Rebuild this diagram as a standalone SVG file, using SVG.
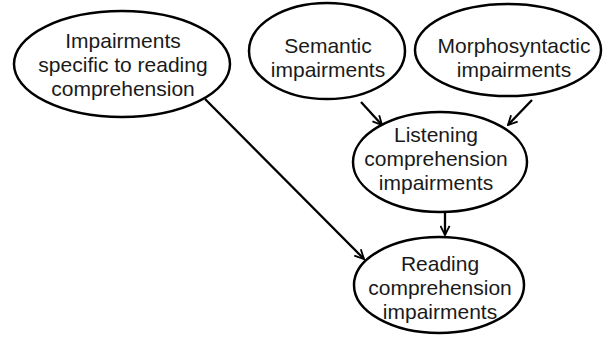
<svg xmlns="http://www.w3.org/2000/svg" width="604" height="339" viewBox="0 0 604 339">
  <defs>
    <marker id="arrow" viewBox="0 0 12 12" refX="11" refY="6" markerWidth="11" markerHeight="11" markerUnits="userSpaceOnUse" orient="auto">
      <path d="M1,1 L11,6 L1,11" fill="none" stroke="#000" stroke-width="2"/>
    </marker>
  </defs>
  <style>
    .node ellipse { fill: #fff; stroke: #000; stroke-width: 2.5; }
    .node text { font-family: "Liberation Sans", Arial, sans-serif; font-size: 21px; fill: #1a1a1a; text-anchor: middle; }
    .edge { stroke: #000; stroke-width: 2.3; fill: none; marker-end: url(#arrow); }
  </style>
  <rect width="604" height="339" fill="#fff"/>

  <g id="connectors">
    <line class="edge" x1="205" y1="99" x2="364" y2="259"/>
    <line class="edge" x1="361" y1="102" x2="382" y2="125"/>
    <line class="edge" x1="532" y1="100" x2="508" y2="125"/>
    <line class="edge" x1="445" y1="212" x2="445" y2="235"/>
  </g>

  <g id="reading-specific" class="node">
    <ellipse cx="122" cy="64" rx="108" ry="53"/>
    <text x="123" y="48">Impairments</text>
    <text x="123" y="72">specific to reading</text>
    <text x="123" y="96">comprehension</text>
  </g>

  <g id="semantic" class="node">
    <ellipse cx="327" cy="51" rx="78" ry="48"/>
    <text x="328" y="53">Semantic</text>
    <text x="328" y="77">impairments</text>
  </g>

  <g id="morphosyntactic" class="node">
    <ellipse cx="508" cy="50" rx="93" ry="46"/>
    <text x="514" y="53">Morphosyntactic</text>
    <text x="514" y="77">impairments</text>
  </g>

  <g id="listening" class="node">
    <ellipse cx="440" cy="162" rx="87" ry="50"/>
    <text x="436" y="142">Listening</text>
    <text x="436" y="166">comprehension</text>
    <text x="436" y="190">impairments</text>
  </g>

  <g id="reading" class="node">
    <ellipse cx="439" cy="285" rx="85" ry="48"/>
    <text x="440" y="271">Reading</text>
    <text x="440" y="295">comprehension</text>
    <text x="440" y="319">impairments</text>
  </g>
</svg>
